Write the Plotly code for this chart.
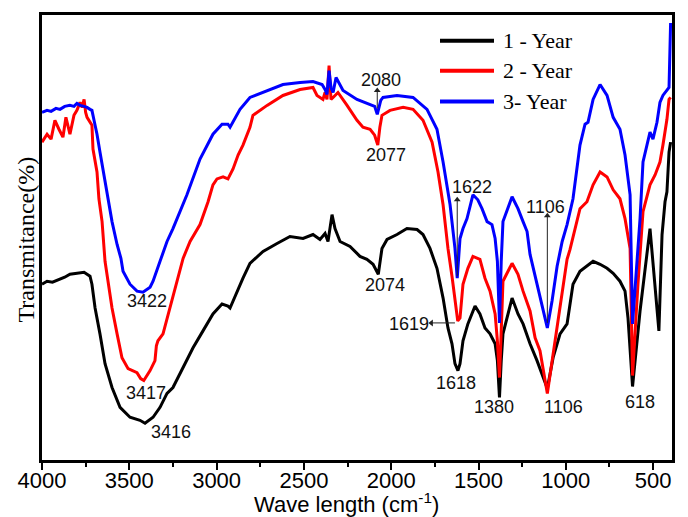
import plotly.graph_objects as go

# ---------------- data ----------------
wn_1year = [4000, 3971, 3940, 3897, 3870, 3840, 3800, 3782, 3759, 3742, 3725, 3714, 3696, 3668,
            3639, 3599, 3553, 3496, 3439, 3410, 3364, 3324, 3284, 3250, 3192, 3135, 3078, 3021,
            2969, 2935, 2923, 2883, 2849, 2809, 2734, 2654, 2580, 2505, 2448, 2408, 2379, 2362,
            2339, 2322, 2293, 2236, 2179, 2139, 2104, 2074, 2053, 2024, 1967, 1910, 1852, 1818,
            1778, 1738, 1703, 1675, 1652, 1635, 1618, 1606, 1589, 1561, 1520, 1492, 1463, 1434,
            1405, 1392, 1380, 1370, 1360, 1308, 1274, 1245, 1205, 1165, 1106, 1073, 1033, 993,
            959, 919, 879, 844, 804, 764, 729, 690, 661, 644, 618, 575, 518, 489, 467, 449,
            432, 421, 409, 400]
t_1year = [177, 180, 179, 182, 184, 187, 188, 188, 189, 187, 185, 177, 153, 127,
           97, 73, 53, 43, 40, 37, 43, 53, 67, 73, 93, 113, 130, 147,
           157, 155, 153, 170, 183, 198, 210, 218, 225, 223, 227, 222, 228, 220,
           247, 233, 220, 215, 205, 202, 197, 187, 213, 222, 227, 233, 232, 227,
           213, 193, 163, 133, 117, 97, 90, 97, 120, 137, 155, 147, 133, 127,
           117, 100, 63, 100, 127, 163, 147, 137, 117, 100, 72, 103, 127, 137,
           177, 190, 195, 200, 197, 193, 188, 180, 170, 143, 74, 150, 233, 177, 130, 227,
           260, 270, 310, 320]

wn_2year = [4000, 3971, 3948, 3926, 3903, 3880, 3863, 3840, 3817, 3800, 3782, 3770, 3759, 3750,
            3742, 3725, 3714, 3708, 3685, 3674, 3656, 3639, 3628, 3599, 3570, 3542, 3507, 3456,
            3435, 3417, 3381, 3353, 3345, 3336, 3307, 3267, 3227, 3192, 3152, 3095, 3049, 3021,
            2998, 2963, 2935, 2906, 2877, 2849, 2809, 2792, 2711, 2620, 2522, 2448, 2425, 2408,
            2391, 2379, 2368, 2356, 2345, 2333, 2305, 2253, 2196, 2162, 2121, 2095, 2077, 2065,
            2053, 2007, 1932, 1875, 1818, 1766, 1732, 1703, 1675, 1652, 1635, 1619, 1606, 1589,
            1561, 1532, 1492, 1463, 1434, 1405, 1392, 1380, 1370, 1360, 1308, 1274, 1245, 1205,
            1176, 1148, 1106, 1079, 1050, 1021, 993, 976, 959, 919, 879, 844, 804, 764, 729,
            690, 661, 632, 618, 587, 558, 518, 489, 461, 444, 421, 409, 400]
t_2year = [320, 328, 323, 342, 333, 325, 345, 328, 347, 352, 360, 355, 363, 350,
           345, 340, 337, 313, 290, 263, 240, 200, 187, 153, 127, 103, 92, 88,
           82, 80, 90, 100, 115, 120, 127, 153, 180, 203, 220, 237, 260, 277,
           283, 285, 283, 293, 307, 317, 335, 347, 357, 367, 373, 375, 367, 365,
           363, 370, 363, 397, 363, 365, 370, 357, 342, 335, 333, 327, 317, 335,
           347, 352, 355, 353, 342, 320, 290, 257, 213, 185, 160, 140, 143, 177,
           193, 205, 202, 183, 170, 147, 120, 83, 130, 180, 198, 187, 170, 150,
           123, 110, 67, 100, 133, 170, 202, 212, 225, 253, 260, 277, 290, 285, 272,
           263, 243, 213, 85, 177, 250, 277, 287, 300, 317, 343, 363, 365]

wn_3year = [4000, 3971, 3948, 3920, 3897, 3870, 3840, 3817, 3800, 3782, 3759, 3742, 3725, 3714,
            3702, 3685, 3668, 3651, 3633, 3622, 3599, 3570, 3548, 3536, 3496, 3456, 3422, 3381,
            3364, 3324, 3284, 3250, 3170, 3095, 3021, 2969, 2935, 2923, 2900, 2866, 2809, 2711,
            2620, 2522, 2448, 2396, 2379, 2368, 2356, 2345, 2333, 2316, 2293, 2276, 2196, 2121,
            2095, 2080, 2060, 2047, 1967, 1875, 1795, 1738, 1703, 1663, 1635, 1622, 1606, 1589,
            1566, 1532, 1504, 1480, 1451, 1423, 1405, 1392, 1380, 1370, 1360, 1308, 1274, 1245,
            1222, 1205, 1165, 1148, 1106, 1079, 1050, 1021, 993, 959, 919, 890, 873, 844, 804,
            764, 729, 690, 661, 632, 618, 575, 558, 518, 501, 478, 461, 444, 421, 409, 400]
t_3year = [350, 352, 351, 354, 353, 356, 357, 356, 359, 357, 356, 355, 353, 352,
           342, 328, 310, 293, 275, 260, 240, 217, 203, 190, 177, 170, 169, 174,
           180, 200, 220, 233, 267, 303, 328, 338, 338, 335, 342, 353, 365, 372,
           378, 380, 381, 378, 373, 368, 392, 375, 370, 385, 378, 372, 363, 358,
           356, 348, 362, 365, 367, 365, 353, 333, 300, 257, 213, 183, 223, 233,
           243, 267, 262, 253, 240, 237, 223, 200, 138, 200, 240, 265, 253, 240,
           230, 207, 177, 165, 133, 160, 195, 220, 237, 263, 317, 338, 340, 363, 378,
           367, 345, 333, 307, 267, 137, 243, 300, 330, 323, 340, 360, 367, 373, 375, 440]

series_names = ["1 - Year", "2 - Year", "3- Year"]
series_colors = ["#000000", "#FF0000", "#0000FF"]

x_tick_values = [4000, 3500, 3000, 2500, 2000, 1500, 1000, 500]

# peak labels: (text, wavenumber, transmittance)
peak_labels = [
    ("3422", 3399, 160), ("3417", 3404, 67), ("3416", 3261, 28),
    ("2080", 2058, 383), ("2077", 2030, 307), ("2074", 2036, 176),
    ("1622", 1537, 275), ("1619", 1898, 137), ("1618", 1629, 78),
    ("1106", 1119, 255), ("1380", 1411, 53), ("1106", 1016, 53),
    ("618", 575, 58),
]
# pointer arrows: (head wavenumber, head value, tail wavenumber, tail value, head symbol)
peak_arrows = [
    (2080, 372, 2080, 354, "triangle-up"),
    (1622, 262, 1622, 185, "triangle-up"),
    (1106, 246, 1106, 138, "triangle-up"),
    (1770, 138, 1635, 138, "triangle-left"),
]

# ---------------- figure ----------------
W, H = 688, 517
ML, MR, MT, MB = 42, 16, 12, 57
PW, PH = W - ML - MR, H - MT - MB

fig = go.Figure()
for wn, t, name, col in [(wn_1year, t_1year, series_names[0], series_colors[0]),
                         (wn_2year, t_2year, series_names[1], series_colors[1]),
                         (wn_3year, t_3year, series_names[2], series_colors[2])]:
    fig.add_trace(go.Scatter(x=wn, y=t, mode="lines", name=name,
                             line=dict(color=col, width=3), showlegend=False))

shapes = []
annotations = []
for txt, xw, yv in peak_labels:
    annotations.append(dict(x=xw, y=yv, xref="x", yref="y", text=txt, showarrow=False,
                            font=dict(family="Liberation Sans, Arial", size=18, color="#111111"),
                            xanchor="center", yanchor="middle"))

# arrow shafts (shapes) + arrow heads (markers)
for hx, hy, tx, ty, sym in peak_arrows:
    shapes.append(dict(type="line", xref="x", yref="y", x0=tx, y0=ty, x1=hx, y1=hy,
                       line=dict(color="#222222", width=1)))
fig.add_trace(go.Scatter(x=[a[0] for a in peak_arrows], y=[a[1] for a in peak_arrows],
                         mode="markers", showlegend=False, hoverinfo="skip",
                         marker=dict(symbol=[a[4] for a in peak_arrows], size=6,
                                     color="#222222", line=dict(width=0))))

# legend drawn manually to match the long line samples
leg_rows_py = [38, 68, 99]
for i, py in enumerate(leg_rows_py):
    yp = (H - MB - py) / PH
    shapes.append(dict(type="line", xref="paper", yref="paper",
                       x0=(440 - ML) / PW, x1=(494 - ML) / PW, y0=yp, y1=yp,
                       line=dict(color=series_colors[i], width=4)))
    annotations.append(dict(x=(501 - ML) / PW, y=yp, xref="paper", yref="paper",
                            text=series_names[i], showarrow=False, xanchor="left",
                            yanchor="middle",
                            font=dict(family="Liberation Serif, Times New Roman", size=22,
                                      color="#000000")))

# axis titles
annotations.append(dict(x=(26 - ML) / PW, y=(H - MB - 238) / PH, xref="paper", yref="paper",
                        text="Transmitance(%)", textangle=-90, showarrow=False,
                        xanchor="center", yanchor="middle",
                        font=dict(family="Liberation Serif, Times New Roman", size=24,
                                  color="#000000")))
annotations.append(dict(x=(346 - ML) / PW, y=(H - MB - 503) / PH, xref="paper", yref="paper",
                        text="Wave length (cm<sup>-1</sup>)", showarrow=False,
                        xanchor="center", yanchor="middle",
                        font=dict(family="Liberation Sans, Arial", size=22, color="#000000")))

fig.update_layout(
    width=W, height=H,
    margin=dict(l=ML, r=MR, t=MT, b=MB, pad=0),
    paper_bgcolor="white", plot_bgcolor="white",
    showlegend=False,
    annotations=annotations, shapes=shapes,
    xaxis=dict(range=[4000, 392], tickvals=x_tick_values,
               showgrid=False, zeroline=False,
               showline=True, linecolor="black", linewidth=3, mirror=True,
               ticks="outside", ticklen=7, tickwidth=2, tickcolor="black",
               ticklabelstandoff=-8,
               minor=dict(dtick=250, tick0=0, ticks="outside", ticklen=4, tickwidth=2,
                          tickcolor="black", showgrid=False),
               tickfont=dict(family="Liberation Sans, Arial", size=22, color="black")),
    yaxis=dict(range=[0, 448], showticklabels=False, ticks="",
               showgrid=False, zeroline=False,
               showline=True, linecolor="black", linewidth=3, mirror=True),
)

fig.write_html("out.html")
